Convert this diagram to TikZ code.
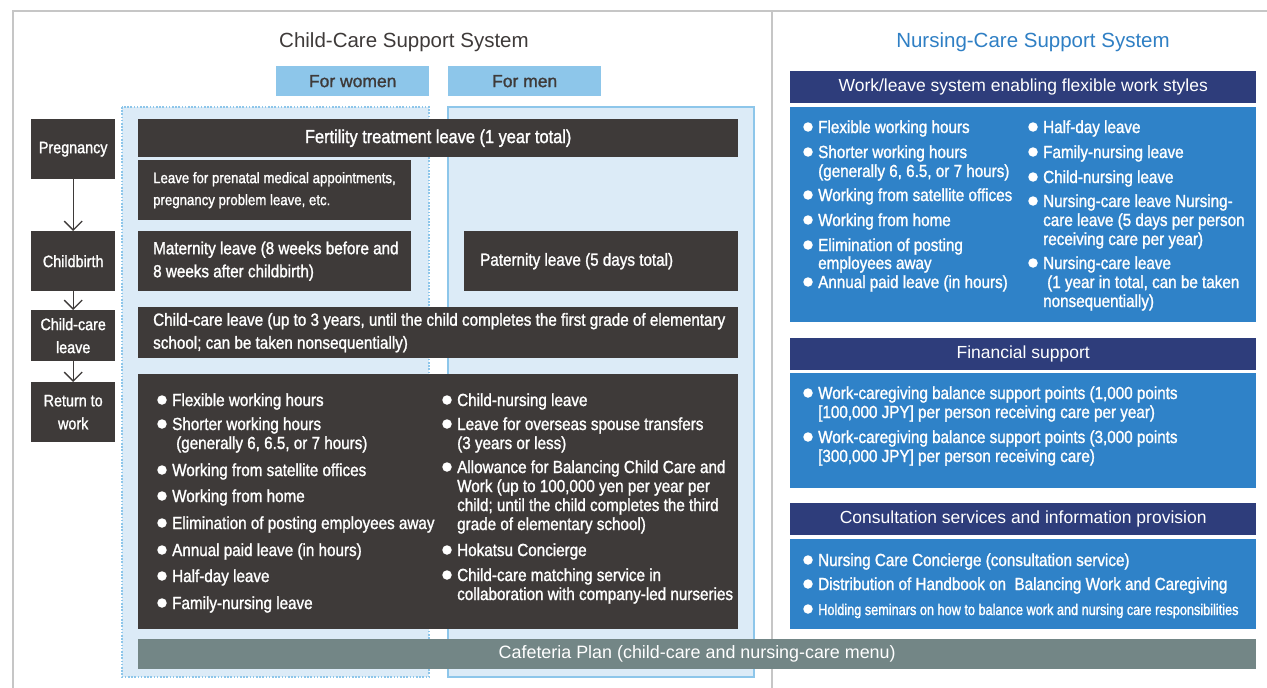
\documentclass[tikz,border=0pt]{standalone}
\usepackage{fontspec}
\setmainfont{Liberation Sans}
\newfontfamily\cnd{Liberation Sans}[FakeStretch=0.87, FakeBold=1.3]
\newfontfamily\cndx{Liberation Sans}[FakeStretch=0.82, FakeBold=1.3]
\newfontfamily\med{Liberation Sans}[FakeBold=1.3]
\usetikzlibrary{arrows.meta, positioning}
\definecolor{boxdark}{HTML}{3E3A39}
\definecolor{paleblue}{HTML}{DCEBF7}
\definecolor{skyblue}{HTML}{8DC6EA}
\definecolor{navy}{HTML}{2E3D7B}
\definecolor{midblue}{HTML}{2F82C8}
\definecolor{titleblue}{HTML}{2F7FC4}
\definecolor{cafegrey}{HTML}{738686}
\definecolor{framegrey}{HTML}{C6C6C6}

\tikzset{
  dkbox/.style={fill=boxdark, inner sep=0pt, anchor=north west},
  boxtxt/.style={anchor=west, align=left, inner sep=0pt, text=white, font=\cnd\fontsize{17.5}{23}\selectfont},
  stepbox/.style={dkbox, text=white, minimum width=84pt, align=center, font=\cnd\fontsize{16.5}{23}\selectfont},
  hdbox/.style={fill=navy, text=white, inner sep=0pt, anchor=north west, minimum width=466pt, minimum height=32pt, font=\fontsize{17.5}{20}\selectfont},
  bodybox/.style={fill=midblue, inner sep=0pt, anchor=north west, minimum width=466pt},
  sexbox/.style={fill=skyblue, text=boxdark, inner sep=0pt, anchor=north west, minimum width=153pt, minimum height=30pt, font=\med\fontsize{17.5}{20}\selectfont},
  item/.style={anchor=base west, inner sep=0pt, text=white, font=\cnd\fontsize{17.5}{19}\selectfont},
  dot/.style={circle, fill=white, inner sep=0pt, minimum size=9.5pt},
  flow/.style={draw=boxdark, line width=1.3pt, -{Straight Barb[length=9pt, width=18pt]}},
}

% bulleted lines: #1 = x of the text, #2 = list of y/text
\newcommand\bullets[2]{%
  \foreach \y/\t in {#2} {
    \node[dot] at ({#1-10},\y) {};
    \node[item] at (#1,{\y+6}) {\t};
  }}
% run-on lines of an item
\newcommand\runon[2]{%
  \foreach \y/\t in {#2} {
    \node[item] at (#1,{\y+6}) {\t};
  }}

\begin{document}
\begin{tikzpicture}[x=1pt,y=-1pt]
  \useasboundingbox (0,0) rectangle (1267,688);

  % frame
  \draw[framegrey, line width=2.5pt] (13,688) -- (13,11) -- (1267,11);
  \draw[framegrey, line width=1.5pt] (772,11) -- (772,688);

  % titles
  \node[text=boxdark, font=\fontsize{20.5}{24}\selectfont] (cctitle) at (404,42) {Child-Care Support System};
  \node[text=titleblue, font=\fontsize{20.5}{24}\selectfont] (nctitle) at (1033,42) {Nursing-Care Support System};

  % women / men columns
  \draw[fill=paleblue, draw=skyblue, line width=2pt, dash pattern=on 1.6pt off 1.6pt] (122,107) rectangle (429,677);
  \draw[fill=paleblue, draw=skyblue, line width=2.5pt] (448,107) rectangle (754,677);
  \node[sexbox] (women) at (276,66) {For women};
  \node[sexbox] (men) at (448,66) {For men};

  % life stages
  \node[stepbox, minimum height=60pt] (preg) at (31,119) {Pregnancy};
  \node[stepbox, minimum height=60pt] (birth) at (31,231) {Childbirth};
  \node[stepbox, minimum height=51pt] (ccstep) at (31,310) {Child-care\\leave};
  \node[stepbox, minimum height=60pt] (ret) at (31,382) {Return to\\work};
  \draw[flow] (preg) -- (birth);
  \draw[flow] (birth) -- (ccstep);
  \draw[flow] (ccstep) -- (ret);

  % child-care measures
  \node[dkbox, text=white, minimum width=600pt, minimum height=38pt, font=\cnd\fontsize{18.8}{20}\selectfont] (fert) at (138,119) {Fertility treatment leave (1 year total)};
  \node[dkbox, minimum width=273pt, minimum height=60pt] (prenat) at (138,160) {};
  \node[boxtxt, font=\cnd\fontsize{15.2}{22}\selectfont] at ([xshift=15pt]prenat.west) {Leave for prenatal medical appointments,\\pregnancy problem leave, etc.};
  \node[dkbox, minimum width=273pt, minimum height=60pt] (matern) at (138,231) {};
  \node[boxtxt] at ([xshift=15pt]matern.west) {Maternity leave (8 weeks before and\\8 weeks after childbirth)};
  \node[dkbox, minimum width=274pt, minimum height=60pt] (patern) at (464,231) {};
  \node[boxtxt] at ([xshift=16pt]patern.west) {Paternity leave (5 days total)};
  \node[dkbox, minimum width=600pt, minimum height=51pt] (ccleave) at (138,307) {};
  \node[boxtxt] at ([xshift=15pt]ccleave.west) {Child-care leave (up to 3 years, until the child completes the first grade of elementary\\school; can be taken nonsequentially)};
  \node[dkbox, minimum width=600pt, minimum height=255pt] (perks) at (138,374) {};
  \bullets{172}{400/Flexible working hours, 424/Shorter working hours, 470/Working from satellite offices,
    496/Working from home, 523/Elimination of posting employees away, 550/Annual paid leave (in hours),
    576/Half-day leave, 603/Family-nursing leave}
  \runon{176}{443/{(generally 6, 6.5, or 7 hours)}}
  \bullets{457}{400/Child-nursing leave, 424/Leave for overseas spouse transfers,
    467/Allowance for Balancing Child Care and, 550/Hokatsu Concierge, 575/Child-care matching service in}
  \runon{457}{443/(3 years or less), 486/{Work (up to 100,000 yen per year per}, 505/{child; until the child completes the third},
    524/grade of elementary school), 594/collaboration with company-led nurseries}

  % nursing-care measures
  \node[hdbox] (worklv) at (790,71) {Work/leave system enabling flexible work styles};
  \node[bodybox, minimum height=215pt] (worklvb) at (790,107) {};
  \bullets{818}{127/Flexible working hours, 152/Shorter working hours, 195/Working from satellite offices,
    220/Working from home, 245/Elimination of posting, 282/Annual paid leave (in hours)}
  \runon{818}{171/{(generally 6, 6.5, or 7 hours)}, 263/employees away}
  \bullets{1043}{127/Half-day leave, 152/Family-nursing leave, 177/Child-nursing leave,
    201/Nursing-care leave Nursing-, 263/Nursing-care leave}
  \runon{1043}{220/care leave (5 days per person, 239/receiving care per year), 301/nonsequentially)}
  \runon{1047}{282/{(1 year in total, can be taken}}

  \node[hdbox] (money) at (790,338) {Financial support};
  \node[bodybox, minimum height=115pt] (moneyb) at (790,373) {};
  \bullets{818}{393/{Work-caregiving balance support points (1,000 points},
    437/{Work-caregiving balance support points (3,000 points}}
  \runon{818}{412/{[100,000 JPY] per person receiving care per year)}, 456/{[300,000 JPY] per person receiving care)}}

  \node[hdbox] (advice) at (790,503) {Consultation services and information provision};
  \node[bodybox, minimum height=90pt] (adviceb) at (790,539) {};
  \bullets{818}{560/Nursing Care Concierge (consultation service), 584/Distribution of Handbook on\ \ Balancing Work and Caregiving}
  \node[dot] (seminar) at (808,609) {};
  \node[item, font=\cndx\fontsize{15.5}{19}\selectfont] at (818,615) {Holding seminars on how to balance work and nursing care responsibilities};

  % cafeteria plan
  \node[fill=cafegrey, text=white, anchor=north west, minimum width=1118pt, minimum height=30pt, inner sep=0pt, font=\fontsize{17.9}{20}\selectfont] (cafe) at (138,639) {Cafeteria Plan (child-care and nursing-care menu)};
\end{tikzpicture}
\end{document}
